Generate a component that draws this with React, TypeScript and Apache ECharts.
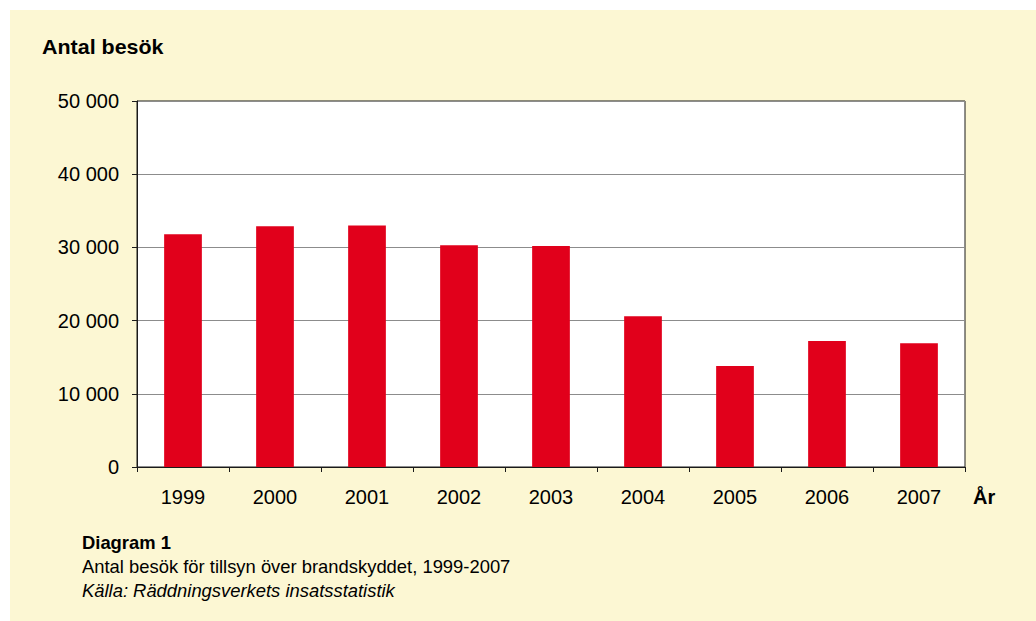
import React, { useEffect, useRef } from "react";
import * as echarts from "echarts";

const years = ["1999", "2000", "2001", "2002", "2003", "2004", "2005", "2006", "2007"];
const visits = [31800, 32900, 33000, 30300, 30200, 20600, 13800, 17200, 16900];
const yTicks = [0, 10000, 20000, 30000, 40000, 50000];

const axisTitle = "Antal besök";
const xName = "År";
const captionTitle = "Diagram 1";
const captionText = "Antal besök för tillsyn över brandskyddet, 1999-2007";
const captionSource = "Källa: Räddningsverkets insatsstatistik";

const FONT = "'Liberation Sans', Arial, sans-serif";

function fmt(v: number): string {
  const s = String(Math.round(v));
  return s.replace(/\B(?=(\d{3})+(?!\d))/g, " ");
}

export default function App() {
  const ref = useRef<HTMLDivElement>(null);
  useEffect(() => {
    if (!ref.current) return;
    const chart = echarts.init(ref.current, undefined, { renderer: "svg" });
    chart.setOption({
      animation: false,
      backgroundColor: "#ffffff",
      textStyle: { fontFamily: FONT },
      graphic: [
        {
          type: "rect",
          z: -10,
          silent: true,
          shape: { x: 10, y: 10, width: 1026, height: 611 },
          style: { fill: "#FCF7D3" },
        },
        {
          type: "text",
          x: 42,
          y: 37,
          scaleX: 1.1,
          style: { text: axisTitle, font: `bold 19.5px ${FONT}`, fill: "#000", textVerticalAlign: "top" },
        },
        {
          type: "text",
          left: 973,
          top: 487,
          style: { text: xName, font: `bold 20px ${FONT}`, fill: "#000" },
        },
        {
          type: "text",
          left: 82,
          top: 533,
          style: { text: captionTitle, font: `bold 18.4px ${FONT}`, fill: "#000" },
        },
        {
          type: "text",
          left: 82,
          top: 557,
          style: { text: captionText, font: `18.4px ${FONT}`, fill: "#000" },
        },
        {
          type: "text",
          left: 82,
          top: 581,
          style: { text: captionSource, font: `italic 18.4px ${FONT}`, fill: "#000" },
        },
      ],
      grid: {
        left: 137,
        top: 101,
        width: 828,
        height: 366,
        show: true,
        backgroundColor: "#ffffff",
        borderColor: "#1a1a1a",
        borderWidth: 1,
      },
      xAxis: {
        type: "category",
        data: years,
        boundaryGap: true,
        axisLine: { show: true, lineStyle: { color: "#1a1a1a", width: 1 } },
        axisTick: { show: true, inside: false, length: 5, alignWithLabel: false, lineStyle: { color: "#1a1a1a" } },
        axisLabel: { color: "#000", fontSize: 20, margin: 20, fontFamily: FONT },
        splitLine: { show: false },
      },
      yAxis: {
        type: "value",
        min: 0,
        max: 50000,
        interval: 10000,
        axisLine: { show: true, lineStyle: { color: "#1a1a1a", width: 1 } },
        axisTick: { show: true, inside: false, length: 5, lineStyle: { color: "#1a1a1a" } },
        axisLabel: {
          color: "#000",
          fontSize: 20,
          margin: 18,
          fontFamily: FONT,
          formatter: (v: number) => (yTicks.includes(v) ? fmt(v) : ""),
        },
        splitLine: { show: true, lineStyle: { color: "#8c8c8c", width: 1 } },
      },
      series: [
        {
          type: "bar",
          data: visits,
          barWidth: "41%",
          itemStyle: { color: "#E1001B" },
        },
      ],
    });
    return () => chart.dispose();
  }, []);
  return (
    <div
      ref={ref}
      style={{ position: "fixed", left: 0, top: 0, width: 1036, height: 621 }}
    />
  );
}
